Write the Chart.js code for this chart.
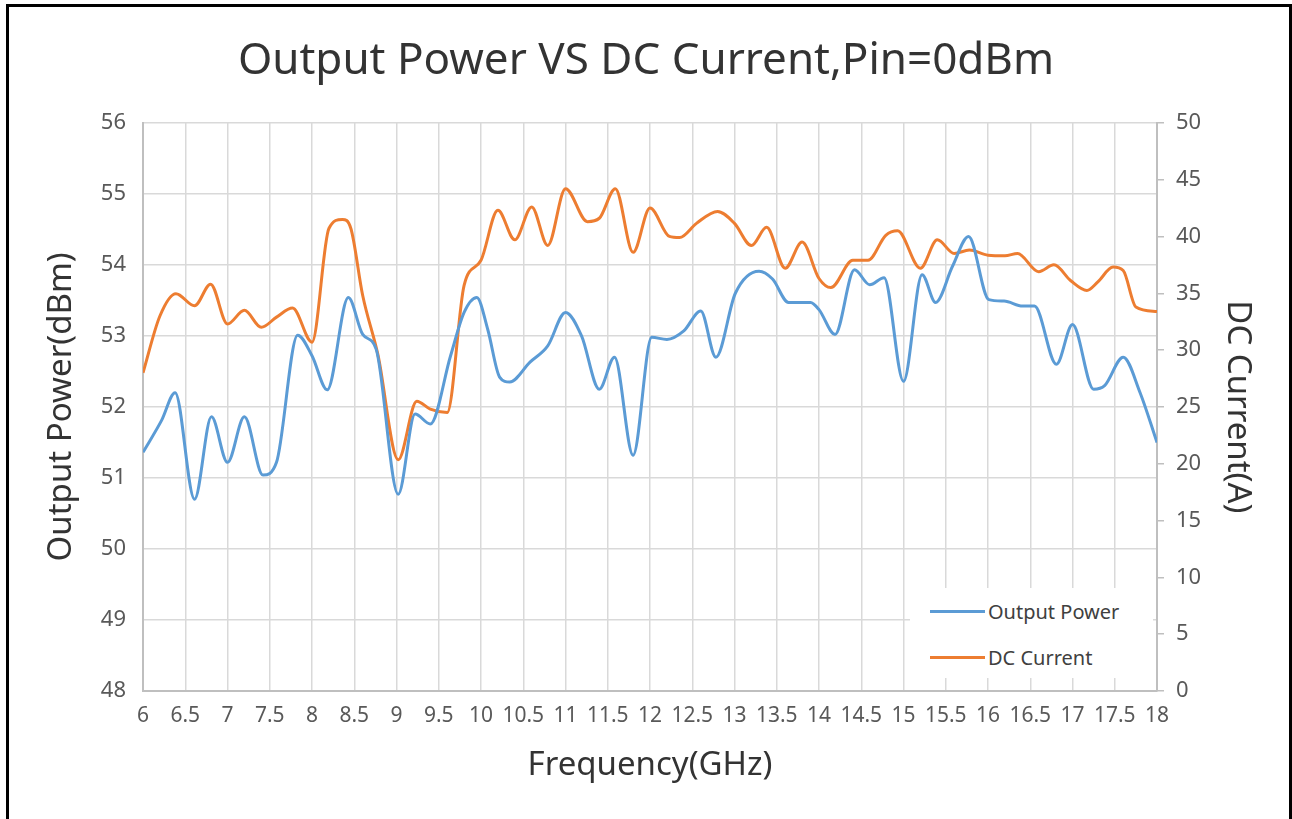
<!DOCTYPE html>
<html>
<head>
<meta charset="utf-8">
<script src="https://cdn.jsdelivr.net/npm/chart.js@4"></script>
<style>
  body { margin: 0; background: #fff; }
  #wrap { position: relative; width: 1292px; height: 819px; }
  #frame { position: absolute; left: 6px; top: 4px; width: 1280px; height: 830px;
           border: 3px solid #000; border-bottom: none; pointer-events: none; }
  #legend { position: absolute; left: 910px; top: 588px; width: 243px; height: 90px;
            background: #fff; font-family: "Noto Sans", sans-serif; font-size: 20px; color: #404040; }
  .item { position: absolute; left: 20px; height: 30px; display: flex; align-items: center; }
  .item span.ln { display: inline-block; width: 55px; height: 3px; margin-right: 3px; }
</style>
</head>
<body>
<div id="wrap">
  <canvas id="grafico" width="1292" height="819"></canvas>
  <div id="legend">
    <div class="item" style="top:8px"><span class="ln" style="background:#5B9BD5"></span>Output Power</div>
    <div class="item" style="top:54px"><span class="ln" style="background:#ED7D31"></span>DC Current</div>
  </div>
  <div id="frame"></div>
</div>
<script>
// frequencia (GHz) e potencia de saida (dBm)
const freqPotencia = [6.0, 6.22, 6.38, 6.61, 6.81, 7.0, 7.2, 7.42, 7.58, 7.83, 8.0, 8.18, 8.43, 8.6, 8.76,
    9.02, 9.22, 9.4, 9.64, 9.8, 9.95, 10.08, 10.22, 10.34, 10.58, 10.79, 11.0, 11.19, 11.4, 11.58, 11.8,
    12.02, 12.2, 12.4, 12.6, 12.78, 13.01, 13.29, 13.45, 13.64, 13.9, 14.0, 14.19, 14.42, 14.6, 14.77,
    15.0, 15.22, 15.38, 15.58, 15.77, 16.01, 16.19, 16.41, 16.55, 16.81, 17.0, 17.25, 17.38, 17.6, 17.8, 18.0];
const potencia = [51.36, 51.81, 52.2, 50.7, 51.86, 51.22, 51.86, 51.04, 51.22, 53.01, 52.72, 52.24, 53.54, 53.02, 52.81,
    50.77, 51.9, 51.76, 52.72, 53.33, 53.54, 53.09, 52.42, 52.35, 52.63, 52.86, 53.33, 53.0, 52.25, 52.7, 51.32,
    52.98, 52.95, 53.07, 53.35, 52.7, 53.6, 53.91, 53.8, 53.47, 53.47, 53.37, 53.02, 53.93, 53.72, 53.82,
    52.36, 53.86, 53.47, 53.98, 54.4, 53.51, 53.49, 53.42, 53.42, 52.6, 53.16, 52.25, 52.3, 52.7, 52.2, 51.5];

// frequencia (GHz) e corrente DC (A)
const freqCorrente = [6.0, 6.2, 6.39, 6.61, 6.8, 7.0, 7.2, 7.4, 7.58, 7.77, 8.0, 8.2, 8.36, 8.46, 8.6, 8.78,
    9.02, 9.24, 9.4, 9.6, 9.8, 10.0, 10.2, 10.4, 10.6, 10.79, 11.0, 11.26, 11.4, 11.59, 11.8, 12.0, 12.23,
    12.35, 12.55, 12.8, 13.0, 13.2, 13.38, 13.6, 13.8, 14.0, 14.14, 14.4, 14.58, 14.79, 14.93, 15.2, 15.4,
    15.6, 15.78, 16.0, 16.2, 16.35, 16.6, 16.78, 16.98, 17.17, 17.3, 17.48, 17.6, 17.75, 18.0];
const corrente = [28.0, 33.0, 34.96, 33.9, 35.8, 32.3, 33.5, 32.0, 32.9, 33.7, 30.7, 40.7, 41.5, 40.7, 34.8, 29.6,
    20.35, 25.5, 24.8, 24.5, 35.7, 37.9, 42.3, 39.7, 42.6, 39.2, 44.2, 41.3, 41.6, 44.2, 38.6, 42.5, 40.0,
    39.9, 41.15, 42.2, 41.15, 39.2, 40.8, 37.2, 39.5, 36.3, 35.5, 37.9, 37.9, 40.1, 40.5, 37.2, 39.7,
    38.5, 38.8, 38.35, 38.3, 38.5, 36.9, 37.5, 36.1, 35.25, 36.0, 37.3, 37.0, 33.8, 33.4];

const fonte = '"Noto Sans", sans-serif';

function pares(xs, ys) {
    return xs.map((x, i) => ({ x: x, y: ys[i] }));
}

const ctx = document.getElementById('grafico').getContext('2d');
new Chart(ctx, {
    type: 'line',
    data: {
        datasets: [{
            label: 'Output Power',
            data: pares(freqPotencia, potencia),
            borderColor: '#5B9BD5',
            borderWidth: 3,
            pointRadius: 0,
            cubicInterpolationMode: 'monotone',
            yAxisID: 'y'
        }, {
            label: 'DC Current',
            data: pares(freqCorrente, corrente),
            borderColor: '#ED7D31',
            borderWidth: 3,
            pointRadius: 0,
            cubicInterpolationMode: 'monotone',
            yAxisID: 'y1'
        }]
    },
    options: {
        responsive: false,
        animation: false,
        layout: { padding: 0 },
        plugins: {
            legend: { display: false },
            tooltip: { enabled: false },
            title: {
                display: true,
                text: 'Output Power VS DC Current,Pin=0dBm',
                color: '#333',
                font: { family: fonte, size: 44, weight: 'normal' },
                padding: { top: 35, bottom: 35 }
            }
        },
        scales: {
            x: {
                type: 'linear',
                min: 6, max: 18,
                afterFit: s => { s.height = 128; },
                ticks: {
                    stepSize: 0.5, autoSkip: false, maxRotation: 0,
                    color: '#595959', padding: 12,
                    font: { family: fonte, size: 21 },
                    callback: v => String(v)
                },
                grid: { color: '#D9D9D9', lineWidth: 1.5, drawTicks: false },
                border: { color: '#BFBFBF', width: 2 },
                title: {
                    display: true, text: 'Frequency(GHz)', color: '#333',
                    font: { family: fonte, size: 33 }, padding: { bottom: 34 }
                }
            },
            y: {
                position: 'left',
                min: 48, max: 56,
                afterFit: s => { s.width = 143; },
                ticks: { stepSize: 1, color: '#595959', padding: 17, font: { family: fonte, size: 22 } },
                grid: { color: '#D9D9D9', lineWidth: 1.5, drawTicks: false },
                border: { color: '#BFBFBF', width: 2 },
                title: {
                    display: true, text: 'Output Power(dBm)', color: '#333',
                    font: { family: fonte, size: 33 }, padding: { top: 42 }
                }
            },
            y1: {
                position: 'right',
                min: 0, max: 50,
                afterFit: s => { s.width = 135; },
                ticks: { stepSize: 5, color: '#595959', padding: 12, font: { family: fonte, size: 22 } },
                grid: { drawOnChartArea: false, color: '#BFBFBF', lineWidth: 1.5, tickLength: 7 },
                border: { color: '#BFBFBF', width: 2 },
                title: {
                    display: true, text: 'DC Current(A)', color: '#333',
                    font: { family: fonte, size: 33 }, padding: { top: 35 }
                }
            }
        }
    }
});
</script>
</body>
</html>
